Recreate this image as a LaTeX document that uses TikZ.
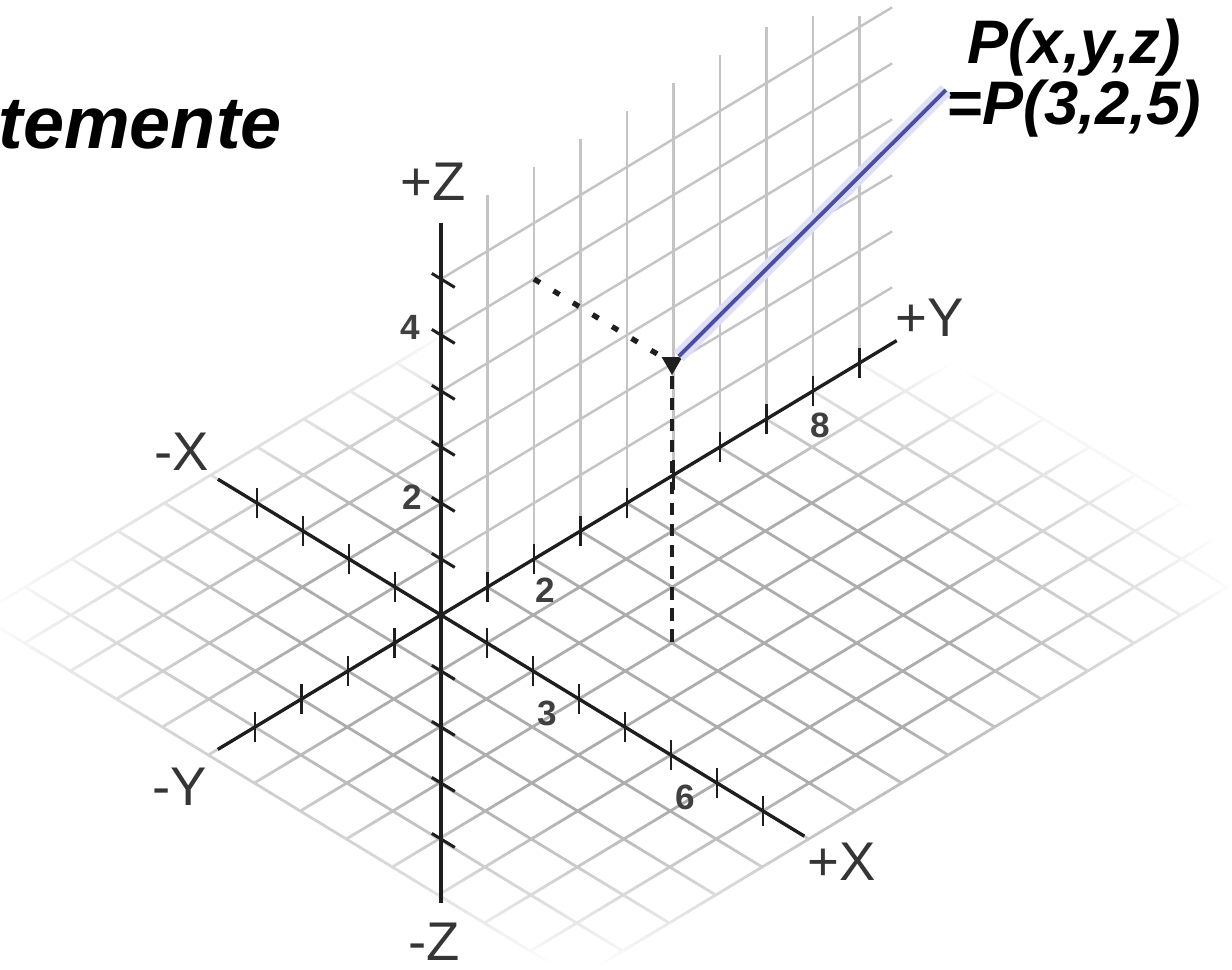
\documentclass[tikz,border=0pt]{standalone}
\usepackage{fontspec}
\setmainfont{Liberation Sans}
\usepackage{tikz}
\usetikzlibrary{
  arrows.meta, positioning, shapes.geometric, calc, fadings
}
\definecolor{mgrid}{HTML}{ADADAD}
\definecolor{mplane}{HTML}{C4C4C4}
\definecolor{maxis}{HTML}{1E1E1E}
\definecolor{mblue}{HTML}{4E4EA0}
\definecolor{mglow}{HTML}{DDE0F8}
\pgfdeclareradialshading{groundshade}{\pgfpointorigin}{%
  color(0bp)=(pgftransparent!0); color(13bp)=(pgftransparent!0);
  color(25bp)=(pgftransparent!100); color(50bp)=(pgftransparent!100)}
\pgfdeclarefading{groundfade}{\pgfuseshading{groundshade}}
\tikzset{
  gridline/.style={draw=mgrid, line width=0.8pt},
  planeline/.style={draw=mplane, line width=0.7pt},
  axisline/.style={draw=maxis, line width=0.95pt},
  tickmark/.style={draw=maxis, line width=0.85pt},
  axlabel/.style={font=\fontsize{15.5}{15.5}\selectfont, text=maxis!90, inner sep=0pt},
  numlabel/.style={font=\fontsize{10}{10}\selectfont\bfseries, text=maxis!85, inner sep=0pt},
  titletext/.style={font=\fontsize{21}{21}\selectfont\bfseries\itshape, inner sep=0pt},
  ptlabel/.style={font=\fontsize{17.5}{15.6}\selectfont\bfseries\itshape, align=center, inner sep=0pt},
  pmark/.style={regular polygon, regular polygon sides=3, shape border rotate=180,
                fill=maxis, inner sep=0pt, minimum size=0.24cm},
  dotline/.style={draw=maxis, line width=1.5pt, dash pattern=on 2pt off 4.5pt},
  dashline/.style={draw=maxis, line width=1.2pt, dash pattern=on 3.5pt off 2.5pt},
  blueglow/.style={draw=mglow, line width=4pt},
  blueline/.style={draw=mblue, line width=1.1pt},
}

\begin{document}
\begin{tikzpicture}[x={(0.46cm,-0.28cm)}, y={(0.465cm,0.28cm)}, z={(0cm,0.56cm)}]
  \path[use as bounding box, fill=white] (-4.41cm,-3.54cm) rectangle (7.91cm,6.15cm);

  %% ── Ground grid (xy plane) ──
  \draw[gridline, path fading=groundfade, fit fading=false,
        fading transform={shift={(1.76cm,-0.25cm)}, xscale=7.15, yscale=3.7}]
    \foreach \i in {-5,...,8} {(\i,-5,0) -- (\i,10,0)}
    \foreach \j in {-5,...,10} {(-5,\j,0) -- (8,\j,0)};

  %% ── Back wall (yz plane) ──
  \fill[white] (0,0,0) -- (0,9.7,0) -- (0,9.7,7) -- (0,0,7) -- cycle;
  \foreach \k/\h in {1/7,2/7,3/7,4/7,5/7,6/7,7/7,8/6.7,9/6.2}
    \draw[planeline] (0,\k,0) -- (0,\k,\h);
  \foreach \k in {1,...,6}
    \draw[planeline] (0,0,\k) -- (0,9.7,\k);

  %% ── Axes ──
  \draw[axisline] (-4.85,0,0) -- (7.9,0,0);
  \draw[axisline] (0,-4.8,0) -- (0,9.8,0);
  \draw[axisline] (0,0,-5.15) -- (0,0,7);

  % Ticks
  \foreach \k in {-4,-3,-2,-1,1,2,3,4,5,6,7}
    \draw[tickmark] (\k,0,-0.27) -- (\k,0,0.27);
  \foreach \k in {-4,-3,-2,-1,1,2,3,4,5,6,7,8,9}
    \draw[tickmark] (0,\k,-0.27) -- (0,\k,0.27);
  \foreach \k in {-4,-3,-2,-1,1,2,3,4,5,6}
    \draw[tickmark] (-0.2,0,\k) -- (0.3,0,\k);

  % Axis names
  \node[axlabel] (lzp) at (-0.08cm,4.33cm) {+Z};
  \node[axlabel] (lxn) at (-2.59cm,1.63cm) {-X};
  \node[axlabel] (lyp) at (4.89cm,2.97cm) {+Y};
  \node[axlabel] (lyn) at (-2.61cm,-1.72cm) {-Y};
  \node[axlabel] (lxp) at (4.01cm,-2.47cm) {+X};
  \node[axlabel] (lzn) at (-0.07cm,-3.27cm) {-Z};

  % Tick numbers
  \node[numlabel] (nx3) at (1.06cm,-0.98cm) {3};
  \node[numlabel] (nx6) at (2.44cm,-1.82cm) {6};
  \node[numlabel] (ny2) at (1.04cm,0.25cm) {2};
  \node[numlabel] (ny8) at (3.79cm,1.90cm) {8};
  \node[numlabel] (nz2) at (-0.29cm,1.18cm) {2};
  \node[numlabel] (nz4) at (-0.31cm,2.88cm) {4};

  %% ── Point P ──
  \coordinate (zp) at (0,2,5);
  \coordinate (gp) at (3,2,0);
  \node[pmark] (P) at (3,2,5) {};
  \draw[dotline] (zp) -- (P);
  \draw[dashline] (P) -- (gp);

  %% ── Labels ──
  \node[titletext, anchor=base west] (ttl) at (-4.43cm,4.67cm) {temente};
  \node[ptlabel] (lbl) at (6.33cm,5.37cm) {P(x,y,z)\\=P(3,2,5)};
  \draw[blueglow] (P) -- ([yshift=-0.12cm]lbl.west);
  \draw[blueline] (P) -- ([yshift=-0.12cm]lbl.west);
\end{tikzpicture}
\end{document}
